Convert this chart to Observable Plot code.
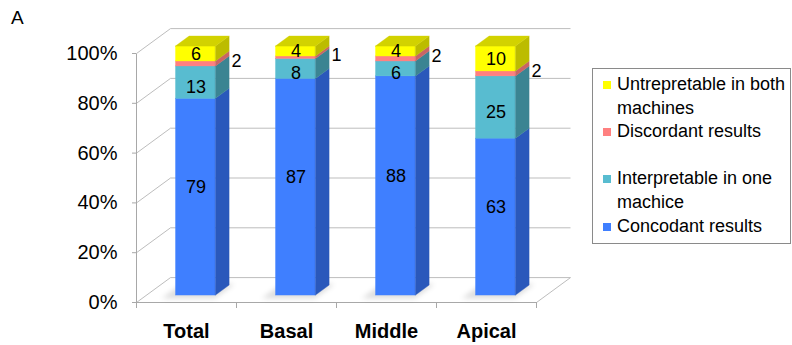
<!DOCTYPE html>
<html>
<head>
<meta charset="utf-8">
<script src="https://cdn.jsdelivr.net/npm/d3@7"></script>
<script src="https://cdn.jsdelivr.net/npm/@observablehq/plot@0.6"></script>
<style>
  body { margin: 0; background: #fff; font-family: "Liberation Sans", Arial, sans-serif; }
  #chart { position: relative; width: 792px; height: 345px; overflow: hidden; }
  #panel { position: absolute; left: 11px; top: 7px; font-size: 19px; color: #000; }
  #legend {
    position: absolute; left: 592px; top: 68px; width: 197px; height: 170px;
    border: 1px solid #8a8a8a; padding-top: 4px; font-size: 18px; line-height: 23.6px;
    color: #000; white-space: nowrap;
  }
  .item { display: flex; align-items: flex-start; }
  .sw { flex: none; width: 8px; height: 8px; margin: 8px 6px 0 10px; }
  .gap { height: 23.6px; }
</style>
</head>
<body>
<div id="chart">
  <div id="panel">A</div>
  <div id="legend"></div>
</div>
<script>
// Share of results per sampling site, in percent
const categories = ["Total", "Basal", "Middle", "Apical"];
const concordant = [79, 87, 88, 63];
const interpretableOne = [13, 8, 6, 25];
const discordant = [2, 1, 2, 2];
const uninterpretableBoth = [6, 4, 4, 10];
const yTicks = [0, 20, 40, 60, 80, 100];

// Series, stacked from the bottom up
const seriesNames = ["Concodant results", "Interpretable in one machice", "Discordant results", "Untrepretable in both machines"];
const legendLines = [["Concodant results"], ["Interpretable in one", "machice"], ["Discordant results"], ["Untrepretable in both", "machines"]];
const frontColors = ["#3f7fff", "#58bcd0", "#ff8080", "#ffff00"];
const sideColors = ["#2a58bb", "#3b8492", "#c96565", "#bcbc00"];
const topColor = "#d2d200";
const gridColor = "#bdbdbd";
const axisColor = "#a8a8a8";

// Oblique depth: one unit of depth shifts x and y by these data amounts
const DX = 0.34, DY = 10;
// Bar depth span and half width (in category units)
const Z0 = 0.28, Z1 = 0.68, HALF = 0.2;

const series = [concordant, interpretableOne, discordant, uninterpretableBoth];
const segs = [];
categories.forEach((c, i) => {
  let base = 0;
  series.forEach((vals, s) => {
    const v = vals[i];
    const cx = i + 0.5 + Z0 * DX;
    segs.push({i, s, v, y0: base, y1: base + v, xl: cx - HALF, xr: cx + HALF, key: `${i}-${s}`});
    base += v;
  });
});

// Right-hand faces of each segment
const sidePts = segs.flatMap(d => [Z0, Z1].map(z => ({
  key: d.key, s: d.s,
  x: d.xr + (z - Z0) * DX,
  lo: d.y0 + z * DY,
  hi: d.y1 + z * DY
})));

// Lid of each bar
const topPts = segs.filter(d => d.s === series.length - 1).flatMap(d => [Z0, Z1].map(z => ({
  key: d.key,
  y: d.y1 + z * DY,
  x1: d.xl + (z - Z0) * DX,
  x2: d.xr + (z - Z0) * DX
})));

// Soft floor shadow under each bar
const shadowPts = segs.filter(d => d.s === 0).flatMap(d => [Z0 - 0.14, Z1 + 0.04].map(z => ({
  key: d.key,
  y: z * DY,
  x1: d.xl + (z - Z0) * DX - 0.09,
  x2: d.xr + (z - Z0) * DX + 0.04
})));

const inside = s => segs.filter(d => d.s === s);
const labelOpts = {
  x: d => (d.xl + d.xr) / 2,
  y: d => (d.y0 + d.y1) / 2 + Z0 * DY,
  text: "v",
  fontSize: 18,
  fill: "#000"
};

const plot = Plot.plot({
  width: 792,
  height: 345,
  marginLeft: 136,
  marginRight: 256,
  marginTop: 53,
  marginBottom: 43,
  style: {fontFamily: "'Liberation Sans', Arial, sans-serif", fontSize: "20px", background: "transparent", overflow: "visible"},
  x: {type: "linear", domain: [0, categories.length]},
  y: {domain: [0, 100]},
  color: {type: "identity"},
  marks: [
    // back wall gridlines
    Plot.link(yTicks, {x1: DX, x2: categories.length + DX, y1: d => d + DY, y2: d => d + DY, stroke: gridColor}),
    // side wall diagonals
    Plot.link(yTicks, {x1: 0, y1: d => d, x2: DX, y2: d => d + DY, stroke: gridColor}),
    // floor edges
    Plot.link([0], {x1: 0, x2: categories.length, y1: 0, y2: 0, stroke: axisColor}),
    Plot.link([0], {x1: categories.length, y1: 0, x2: categories.length + DX, y2: DY, stroke: gridColor}),
    Plot.link([0], {x1: 0, x2: 0, y1: 0, y2: 100, stroke: axisColor}),
    // shadows
    Plot.areaX(shadowPts, {y: "y", x1: "x1", x2: "x2", z: "key", fill: "#000", fillOpacity: 0.13, imageFilter: "blur(2.5px)"}),
    // bars
    Plot.rect(segs, {x1: "xl", x2: "xr", y1: d => d.y0 + Z0 * DY, y2: d => d.y1 + Z0 * DY,
      fill: d => frontColors[d.s], stroke: d => frontColors[d.s], strokeWidth: 0.4}),
    Plot.areaY(sidePts, {x: "x", y1: "lo", y2: "hi", z: "key", fill: d => sideColors[d.s], stroke: d => sideColors[d.s], strokeWidth: 0.4}),
    Plot.areaX(topPts, {y: "y", x1: "x1", x2: "x2", z: "key", fill: topColor, stroke: topColor, strokeWidth: 0.4}),
    // value labels
    Plot.text(inside(0), {...labelOpts, dy: -10}),
    Plot.text(inside(1), {...labelOpts, dy: 4.5}),
    Plot.text(inside(3), {...labelOpts, dy: 0}),
    Plot.text(inside(2), {
      x: d => d.xr + (Z1 - Z0) * DX,
      y: d => (d.y0 + d.y1) / 2 + 0.45 * DY,
      text: "v", textAnchor: "start", dx: 2, dy: 1.5, fontSize: 18, fill: "#000"
    }),
    // axes
    Plot.axisY(yTicks, {tickSize: 4, tickPadding: 15, tickFormat: d => `${d}%`, fontSize: 20, stroke: axisColor, fill: "#000"}),
    Plot.axisX(d3.range(categories.length + 1), {tickSize: 6, tickFormat: () => "", stroke: axisColor}),
    Plot.axisX(categories.map((c, i) => i + 0.5), {tickSize: 0, tickPadding: 21, tickFormat: x => categories[Math.floor(x)],
      fontSize: 20, fontWeight: "bold", fill: "#000"})
  ]
});

const chart = document.getElementById("chart");
chart.insertBefore(plot, chart.firstChild);
plot.style.position = "absolute";
plot.style.left = "0";
plot.style.top = "0";

// Legend, top entry first
const legend = document.getElementById("legend");
const order = [3, 2, -1, 1, 0];
order.forEach(s => {
  if (s < 0) {
    const g = document.createElement("div");
    g.className = "gap";
    legend.appendChild(g);
    return;
  }
  const item = document.createElement("div");
  item.className = "item";
  item.title = seriesNames[s];
  const sw = document.createElement("div");
  sw.className = "sw";
  sw.style.background = frontColors[s];
  const txt = document.createElement("div");
  txt.innerHTML = legendLines[s].join("<br>");
  item.appendChild(sw);
  item.appendChild(txt);
  legend.appendChild(item);
});
</script>
</body>
</html>
